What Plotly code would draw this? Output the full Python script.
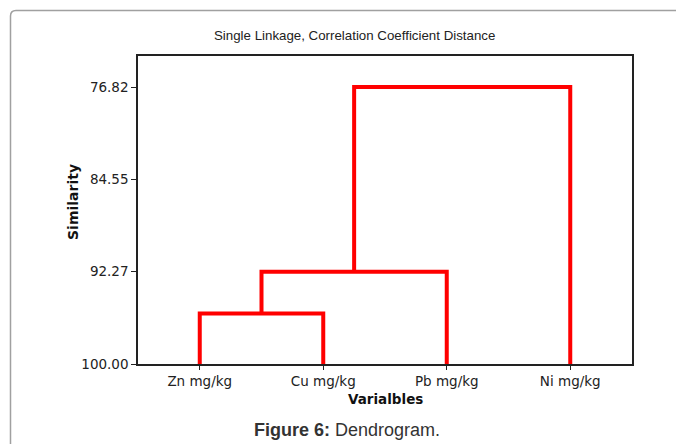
import plotly.graph_objects as go

# ---- data ----
leaf_labels = ["Zn mg/kg", "Cu mg/kg", "Pb mg/kg", "Ni mg/kg"]
merge_left = ["Zn mg/kg", "C1", "C2"]
merge_right = ["Cu mg/kg", "Pb mg/kg", "Ni mg/kg"]
merge_names = ["C1", "C2", "C3"]
merge_similarity = [95.78, 92.27, 76.82]
tick_values = [100.00, 92.27, 84.55, 76.82]
tick_labels = ["100.00", "92.27", "84.55", "76.82"]

# ---- build dendrogram segments ----
node_x = {lab: i + 1 for i, lab in enumerate(leaf_labels)}
node_y = {lab: 100.0 for lab in leaf_labels}
xs, ys = [], []
for l, r, n, h in zip(merge_left, merge_right, merge_names, merge_similarity):
    xl, yl, xr, yr = node_x[l], node_y[l], node_x[r], node_y[r]
    xs += [xl, xl, xr, xr, None]
    ys += [yl, h, h, yr, None]
    node_x[n] = (xl + xr) / 2
    node_y[n] = h

W, H = 676, 444
ml, mr, mt, mb = 138, 44, 56, 80
pw, ph = W - ml - mr, H - mt - mb


def px(x):
    return (x - ml) / pw


def py(y):
    return (H - mb - y) / ph


fig = go.Figure()
fig.add_trace(go.Scatter(x=xs, y=ys, mode="lines",
                         line=dict(color="#ff0000", width=4),
                         hoverinfo="skip", showlegend=False))

tickfont = dict(family="DejaVu Sans", size=13.5, color="#222222")
fig.update_layout(
    width=W, height=H,
    margin=dict(l=ml, r=mr, t=mt, b=mb),
    paper_bgcolor="white", plot_bgcolor="white",
    showlegend=False,
    xaxis=dict(range=[0.5, 4.5], tickmode="array",
               tickvals=list(range(1, len(leaf_labels) + 1)),
               ticktext=leaf_labels, ticks="outside", ticklen=4,
               tickcolor="#222", showgrid=False, zeroline=False,
               showline=True, linecolor="#222", linewidth=1.5, mirror=True,
               tickfont=tickfont),
    yaxis=dict(range=[100, 74.22], tickmode="array",
               tickvals=tick_values, ticktext=tick_labels,
               ticks="outside", ticklen=5, tickcolor="#222",
               showgrid=False, zeroline=False,
               showline=True, linecolor="#222", linewidth=1.5, mirror=True,
               tickfont=tickfont),
)

fig.add_annotation(text="Single Linkage, Correlation Coefficient Distance",
                   x=px(354), y=py(35), xref="paper", yref="paper",
                   xanchor="center", yanchor="middle", showarrow=False,
                   font=dict(family="Liberation Sans", size=13.3, color="#222"))
fig.add_annotation(text="<b>Varialbles</b>",
                   x=px(385), y=py(399), xref="paper", yref="paper",
                   xanchor="center", yanchor="middle", showarrow=False,
                   font=dict(family="DejaVu Sans", size=13.5, color="#111"))
fig.add_annotation(text="<b>Similarity</b>", textangle=-90,
                   x=px(73), y=py(202), xref="paper", yref="paper",
                   xanchor="center", yanchor="middle", showarrow=False,
                   font=dict(family="DejaVu Sans", size=14, color="#111"))
fig.add_annotation(text="<b>Figure 6:</b> Dendrogram.",
                   x=px(347), y=py(430), xref="paper", yref="paper",
                   xanchor="center", yanchor="middle", showarrow=False,
                   font=dict(family="Liberation Sans", size=18, color="#333"))

# rounded frame (top-left corner visible)
path = (f"M {px(10.5)},{py(446)} L {px(10.5)},{py(16)} "
        f"Q {px(10.5)},{py(10.5)} {px(16)},{py(10.5)} L {px(680)},{py(10.5)}")
fig.add_shape(type="path", path=path, xref="paper", yref="paper",
              line=dict(color="#a0a0a0", width=1.5), layer="below")

fig.write_html("out.html",
               config={"displayModeBar": False},
               post_script="document.body.style.margin='0';"
                           "document.body.style.overflow='hidden';")
